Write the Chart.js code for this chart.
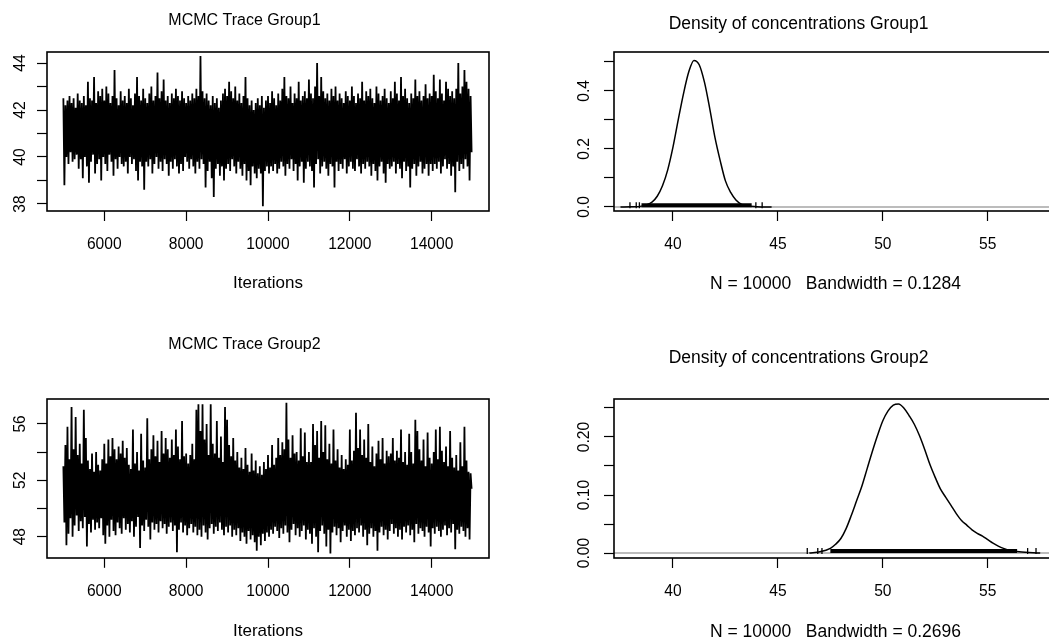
<!DOCTYPE html>
<html>
<head>
<meta charset="utf-8">
<script src="https://cdn.jsdelivr.net/npm/chart.js@4.4.1/dist/chart.umd.min.js"></script>
<style>
html, body { margin: 0; padding: 0; background: #fff; overflow: hidden; width: 1049px; height: 639px; }
canvas { position: absolute; }
</style>
</head>
<body>
<canvas id="trace1" width="504" height="294" style="left:0px;top:0px"></canvas>
<canvas id="dens1" width="620" height="295" style="left:540px;top:0px"></canvas>
<canvas id="trace2" width="490" height="322" style="left:0px;top:320px"></canvas>
<canvas id="dens2" width="578" height="323" style="left:540px;top:320px"></canvas>
<script>
// iterations of the chain (x of the trace plots)
const iterStart = 5000
const iterStep = 50
const iterLim = [4600, 15400]
const iterTicks = [6000, 8000, 10000, 12000, 14000]
const iterLabels = ['6000', '8000', '10000', '12000', '14000']

// Group1 trace: upper and lower excursions, one pair per 50 iterations
const hi1 = [
  42.5,42.2,42.4,42.6,42.3,42.5,42.1,42.7,42.4,42.3,42.6,42.2,43.2,42.5,42.4,43.4,42.3,42.8,42.6,42.9,
  42.4,43.0,42.7,42.3,42.6,43.7,42.5,42.2,42.8,42.4,42.6,42.3,42.9,42.5,42.2,42.7,43.4,42.6,42.4,42.9,
  42.5,42.3,42.7,43.0,42.4,42.6,43.6,42.5,42.8,43.3,42.4,42.6,42.3,42.7,42.5,42.9,42.6,42.4,42.8,42.5,
  42.3,42.6,42.4,42.7,42.5,42.9,42.6,44.3,42.8,42.5,42.7,42.4,42.2,42.6,42.3,42.5,42.1,42.4,42.7,42.9,
  42.6,43.2,42.8,42.5,43.0,42.4,42.7,42.3,42.6,43.4,42.5,42.2,42.4,42.0,42.3,42.5,42.2,42.6,42.1,42.4,
  42.6,42.3,42.8,42.5,42.2,42.7,42.4,42.9,43.4,42.6,42.5,43.0,42.3,42.7,42.5,43.2,42.4,42.6,42.8,42.5,
  43.3,42.7,42.5,43.0,44.0,42.6,43.4,42.8,42.5,42.7,42.4,42.9,42.6,43.0,42.4,42.7,42.5,42.3,42.8,42.6,
  42.4,43.0,42.6,42.3,42.7,42.5,43.2,42.4,42.8,42.6,42.9,42.5,42.3,43.0,42.7,42.4,42.6,42.9,42.5,42.3,
  42.8,42.5,43.2,42.7,42.4,43.4,42.6,42.9,42.5,42.3,42.7,42.5,43.3,42.6,42.8,42.4,42.6,43.1,42.5,42.7,
  42.6,43.5,42.8,42.5,43.3,42.7,42.4,43.2,42.9,42.6,42.8,42.5,42.9,44.0,42.7,43.0,43.7,43.2,42.9,42.6
]
const lo1 = [
  38.8,40.0,39.7,40.2,39.8,39.9,40.1,39.5,39.9,39.1,40.0,39.6,38.9,39.8,40.1,39.3,39.7,39.9,39.0,40.0,
  39.7,39.4,40.1,39.8,39.2,39.9,39.5,40.0,39.7,39.6,39.8,39.3,40.0,39.7,39.9,39.4,39.0,39.8,39.6,38.6,
  39.8,39.6,39.9,39.3,39.7,40.0,39.5,39.8,39.4,39.9,39.7,39.2,39.8,39.5,39.9,39.6,39.3,39.7,39.4,40.0,
  39.8,39.5,39.9,39.6,39.3,39.8,39.5,39.9,39.7,38.7,39.4,39.8,39.1,38.3,39.5,39.7,39.2,39.6,39.0,39.5,
  39.7,39.4,39.9,39.6,39.3,39.8,39.5,39.2,39.7,39.0,39.4,38.8,39.6,39.3,39.1,39.5,39.3,37.9,39.4,39.6,
  39.3,39.6,39.4,39.7,39.3,39.5,39.8,39.6,39.2,39.7,39.5,39.9,39.4,39.7,39.0,39.6,39.8,38.9,39.5,39.8,
  39.6,39.4,38.7,39.7,39.9,39.3,39.6,39.8,39.5,39.2,39.7,39.6,38.7,39.8,39.4,39.7,39.5,39.9,39.3,39.6,
  39.8,39.5,39.4,39.9,39.6,39.3,39.7,39.5,39.8,39.6,39.2,39.7,39.4,39.0,39.6,39.8,39.3,38.9,39.7,39.5,
  39.6,39.8,39.3,39.7,39.5,39.1,39.8,39.4,39.6,38.7,39.5,39.7,39.2,39.6,39.8,39.3,39.5,39.7,39.2,39.7,
  39.4,39.7,39.5,39.8,39.3,39.6,39.9,39.5,39.7,39.2,39.6,38.5,39.8,39.4,39.7,39.5,39.9,39.6,39.0,40.2
]
const trace1Lim = [37.7, 44.47]
const trace1Ticks = [38, 39, 40, 41, 42, 43, 44]
const trace1Labels = ['38', '', '40', '', '42', '', '44']

// Group2 trace
const hi2 = [
  53.0,54.5,55.8,53.5,57.2,54.2,56.5,53.8,54.6,53.2,57.0,55.0,53.4,52.8,53.9,52.6,54.0,53.1,52.7,53.5,
  54.6,53.2,54.9,53.7,55.0,54.2,53.5,54.4,53.9,54.8,53.6,54.3,53.1,52.8,55.6,53.2,54.0,52.7,55.3,53.4,
  52.9,56.4,53.5,54.2,55.2,53.7,54.8,53.3,55.5,53.9,55.0,54.2,53.6,54.9,53.8,55.6,54.4,53.5,56.2,53.7,
  53.9,53.2,53.8,54.6,53.5,57.0,57.4,55.5,57.4,54.9,56.0,53.8,57.4,54.6,53.9,56.2,53.6,55.1,53.3,57.2,
  56.3,54.5,53.7,55.0,53.4,54.0,52.9,53.6,52.8,54.3,53.1,52.6,53.9,52.7,53.4,52.5,53.0,52.4,53.3,52.8,
  53.8,52.9,54.5,53.1,53.6,55.0,53.8,54.7,54.2,57.5,54.9,53.6,55.2,53.9,54.0,53.4,55.7,53.7,55.4,53.3,
  54.0,53.3,56.0,54.5,55.5,53.6,56.2,54.0,55.9,53.5,54.6,53.2,55.6,53.4,54.2,52.9,53.8,52.8,53.5,53.1,
  55.6,53.4,54.1,56.8,54.3,55.6,53.8,54.9,53.6,56.0,53.3,54.4,53.0,53.9,54.8,53.5,55.0,53.2,54.1,53.7,
  53.9,55.0,53.4,54.1,53.6,55.6,53.3,54.0,53.1,55.3,54.0,53.2,56.3,55.5,54.2,53.4,54.9,53.0,55.4,53.6,
  53.2,54.0,55.6,53.5,55.8,54.1,53.3,54.4,53.0,55.5,53.6,52.9,53.8,52.7,54.7,53.0,55.8,53.4,52.6,52.5
]
const lo2 = [
  49.0,47.4,48.2,49.3,48.0,48.8,49.5,48.4,49.1,48.6,49.4,47.3,48.9,48.3,49.2,48.5,49.0,48.6,49.3,48.1,
  47.5,48.8,48.0,49.2,48.4,48.1,49.0,48.6,48.2,49.3,48.5,48.9,48.3,49.1,48.0,48.7,49.4,47.2,48.8,48.4,
  49.2,48.7,47.8,49.0,48.5,48.9,48.3,49.1,48.6,48.9,48.2,48.7,49.0,48.4,48.8,46.9,48.5,49.0,48.3,48.8,
  48.1,48.6,48.9,48.3,48.7,48.1,48.5,48.0,48.8,48.3,47.8,48.6,48.9,48.2,48.7,48.4,49.0,48.5,48.1,48.7,
  48.3,48.8,48.0,48.5,48.1,48.6,47.7,48.3,48.0,47.5,48.4,47.8,48.1,47.6,47.0,48.0,47.4,48.2,47.7,48.3,
  48.0,48.5,48.2,48.7,48.4,47.9,48.6,48.2,48.8,48.3,47.6,48.5,48.9,48.1,48.6,48.0,48.4,48.8,47.8,48.5,
  48.2,47.5,48.6,48.0,46.9,48.4,48.8,48.2,47.3,48.5,46.8,48.3,48.7,48.1,48.6,47.6,48.4,48.8,48.0,48.5,
  47.7,48.4,48.1,48.6,48.3,48.8,48.0,48.5,47.4,48.2,48.6,48.0,48.4,47.0,48.3,48.7,48.1,48.5,47.8,48.4,
  48.9,48.2,48.6,48.0,48.5,47.8,48.7,48.3,48.8,48.1,48.5,47.6,48.9,48.2,48.6,48.4,48.0,48.7,48.3,47.3,
  48.6,48.2,48.7,48.4,48.0,48.5,48.8,48.1,48.6,48.3,48.9,47.1,48.5,48.2,48.7,48.4,48.0,48.6,47.8,51.4
]
const trace2Lim = [46.5, 57.77]
const trace2Ticks = [48, 50, 52, 54, 56]
const trace2Labels = ['48', '', '52', '', '56']

// density curves (shared x axis)
const densXLim = [37.19, 58.3]
const densXTicks = [40, 45, 50, 55]
const densXLabels = ['40', '45', '50', '55']

const dens1X = [37.5, 38.0, 38.5, 39.0, 39.25, 39.5, 39.75, 40.0, 40.25, 40.5, 40.75, 41.0, 41.25, 41.5, 41.75, 42.0, 42.25, 42.5, 42.75, 43.0, 43.25, 43.5, 44.0, 44.7]
const dens1Y = [0, 0.0005, 0.003, 0.017, 0.037, 0.073, 0.128, 0.206, 0.30, 0.39, 0.465, 0.505, 0.49, 0.43, 0.34, 0.24, 0.16, 0.09, 0.05, 0.024, 0.01, 0.004, 0.001, 0]
const rug1Band = [38.5, 43.75]
const rug1Tails = [37.95, 38.25, 38.4, 43.95, 44.25]
const dens1YLim = [-0.0138, 0.534]
const dens1YTicks = [0, 0.1, 0.2, 0.3, 0.4, 0.5]
const dens1YLabels = ['0.0', '', '0.2', '', '0.4', '']

const dens2X = [46.5, 47.0, 47.5, 47.75, 48.0, 48.25, 48.5, 48.75, 49.0, 49.25, 49.5, 49.75, 50.0, 50.25, 50.5, 50.75, 51.0, 51.25, 51.5, 51.75, 52.0, 52.25, 52.5, 52.75, 53.0, 53.25, 53.5, 53.75, 54.0, 54.25, 54.5, 54.75, 55.0, 55.25, 55.5, 55.75, 56.0, 56.5, 57.5]
const dens2Y = [0, 0.002, 0.008, 0.015, 0.025, 0.042, 0.065, 0.09, 0.115, 0.145, 0.175, 0.203, 0.228, 0.245, 0.255, 0.257, 0.25, 0.237, 0.222, 0.202, 0.178, 0.152, 0.13, 0.11, 0.096, 0.082, 0.068, 0.056, 0.048, 0.04, 0.034, 0.029, 0.023, 0.017, 0.012, 0.008, 0.005, 0.002, 0]
const rug2Band = [47.5, 56.4]
const rug2Tails = [46.4, 46.9, 47.1, 56.9, 57.3]
const dens2YLim = [-0.0086, 0.2655]
const dens2YTicks = [0, 0.05, 0.10, 0.15, 0.20, 0.25]
const dens2YLabels = ['0.00', '', '0.10', '', '0.20', '']

Chart.defaults.font.family = '"Liberation Sans", Arial, sans-serif'
Chart.defaults.color = '#000'

// R style frame round the plot region
const boxPlugin = {
  id: 'box',
  afterDraw(chart) {
    const {ctx, chartArea: a} = chart
    ctx.save()
    ctx.strokeStyle = '#000'
    ctx.lineWidth = 1.6
    ctx.strokeRect(Math.round(a.left), Math.round(a.top), Math.round(a.width), Math.round(a.height))
    ctx.restore()
  }
}

function makeAxis(lim, ticks, labels, horizontal, size, pad, title) {
  return {
    type: 'linear',
    min: lim[0],
    max: lim[1],
    afterBuildTicks: s => { s.ticks = ticks.map(v => ({value: v})) },
    afterFit: s => { if (horizontal) s.height = size; else s.width = size },
    grid: {drawOnChartArea: false, drawTicks: true, tickLength: 10, tickColor: '#000', tickWidth: 1.2},
    border: {display: false},
    ticks: {
      autoSkip: false,
      color: '#000',
      padding: pad,
      font: {size: 15.6},
      minRotation: horizontal ? 0 : 90,
      maxRotation: horizontal ? 0 : 90,
      crossAlign: horizontal ? 'near' : 'center',
      callback: (v, i) => labels[i]
    },
    title: title ? {display: true, text: title.text, font: {size: title.size}, padding: 0, color: '#000'} : {display: false}
  }
}

function traceData(hi, lo) {
  const pts = []
  hi.forEach((h, i) => {
    pts.push({x: iterStart + i * iterStep, y: h})
    pts.push({x: iterStart + i * iterStep + iterStep / 2, y: lo[i]})
  })
  return pts
}

function traceChart(id, title, titlePad, hi, lo, yLim, yTicks, yLabels, xSize, rightPad) {
  new Chart(document.getElementById(id), {
    type: 'scatter',
    data: {datasets: [{
      data: traceData(hi, lo),
      showLine: true,
      borderColor: '#000',
      borderWidth: 1.8,
      borderJoinStyle: 'bevel',
      pointRadius: 0
    }]},
    options: {
      responsive: false,
      animation: false,
      devicePixelRatio: 1,
      layout: {padding: {left: 0, right: rightPad, top: 0, bottom: 0}},
      plugins: {
        legend: {display: false},
        tooltip: {enabled: false},
        title: {display: true, text: title, color: '#000', font: {size: 16, weight: 'normal'}, padding: titlePad}
      },
      scales: {
        x: makeAxis(iterLim, iterTicks, iterLabels, true, xSize, 14.2, {text: 'Iterations', size: 17}),
        y: makeAxis(yLim, yTicks, yLabels, false, 47, 7.7)
      }
    },
    plugins: [boxPlugin]
  })
}

function densChart(id, title, titlePad, xs, ys, band, tails, rugY, yLim, yTicks, yLabels, yPad, xlab, xSize, rightPad) {
  new Chart(document.getElementById(id), {
    type: 'scatter',
    data: {datasets: [
      {
        data: xs.map((x, i) => ({x, y: ys[i]})),
        showLine: true, borderColor: '#000', borderWidth: 1.5,
        cubicInterpolationMode: 'monotone', pointRadius: 0, order: 1
      },
      {
        data: band.map(x => ({x, y: rugY})),
        showLine: true, borderColor: '#000', borderWidth: 4,
        borderCapStyle: 'butt', pointRadius: 0, order: 2
      },
      {
        data: tails.map(x => ({x, y: rugY})),
        pointStyle: 'line', rotation: 90, radius: 3, borderWidth: 1.3,
        borderColor: '#000', backgroundColor: '#000', order: 2
      },
      {
        data: densXLim.map(x => ({x, y: 0})),
        showLine: true, borderColor: '#a6a6a6', borderWidth: 1.3, pointRadius: 0, order: 3
      }
    ]},
    options: {
      responsive: false,
      animation: false,
      devicePixelRatio: 1,
      layout: {padding: {left: 0, right: rightPad, top: 0, bottom: 0}},
      plugins: {
        legend: {display: false},
        tooltip: {enabled: false},
        title: {display: true, text: title, color: '#000', font: {size: 17.5, weight: 'normal'}, padding: titlePad}
      },
      scales: {
        x: makeAxis(densXLim, densXTicks, densXLabels, true, xSize, 14.2, {text: xlab, size: 17.5}),
        y: makeAxis(yLim, yTicks, yLabels, false, 74, yPad)
      }
    },
    plugins: [boxPlugin]
  })
}

traceChart('trace1', 'MCMC Trace Group1', {top: 11.4, bottom: 21.4}, hi1, lo1, trace1Lim, trace1Ticks, trace1Labels, 83, 15)
traceChart('trace2', 'MCMC Trace Group2', {top: 15.4, bottom: 44.4}, hi2, lo2, trace2Lim, trace2Ticks, trace2Labels, 84.2, 1)
densChart('dens1', 'Density of concentrations Group1', {top: 13.5, bottom: 17.5}, dens1X, dens1Y, rug1Band, rug1Tails, 0.006,
  dens1YLim, dens1YTicks, dens1YLabels, 8.2, 'N = 10000   Bandwidth = 0.1284', 84, 103)
densChart('dens2', 'Density of concentrations Group2', {top: 27.5, bottom: 30.5}, dens2X, dens2Y, rug2Band, rug2Tails, 0.0034,
  dens2YLim, dens2YTicks, dens2YLabels, 3.9, 'N = 10000   Bandwidth = 0.2696', 85, 61)
</script>
</body>
</html>
